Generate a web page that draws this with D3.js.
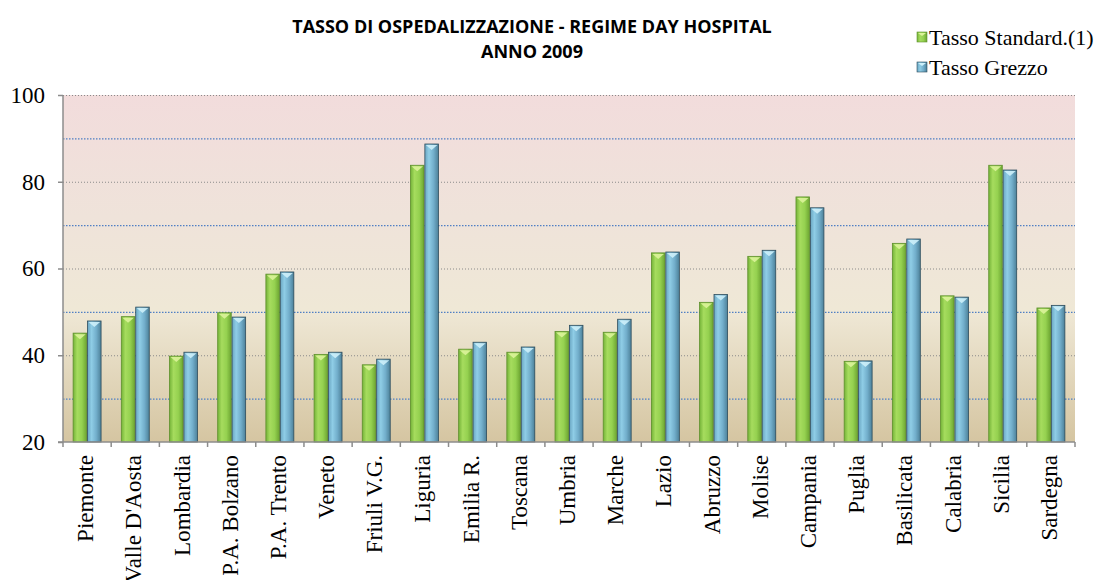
<!DOCTYPE html>
<html>
<head>
<meta charset="utf-8">
<script src="https://cdnjs.cloudflare.com/ajax/libs/d3/7.8.5/d3.min.js"></script>
<style>
  html, body { margin: 0; padding: 0; background: #ffffff; }
  svg { display: block; }
</style>
</head>
<body>
<svg id="chart" width="1102" height="580"></svg>
<script>
// Regional hospitalisation rates, day-hospital regime, 2009
const regions = ["Piemonte", "Valle D'Aosta", "Lombardia", "P.A. Bolzano", "P.A. Trento", "Veneto",
  "Friuli V.G.", "Liguria", "Emilia R.", "Toscana", "Umbria", "Marche", "Lazio", "Abruzzo",
  "Molise", "Campania", "Puglia", "Basilicata", "Calabria", "Sicilia", "Sardegna"];
const tassoStandard = [45.1, 48.9, 39.8, 49.8, 58.7, 40.2, 37.8, 83.8, 41.4, 40.7, 45.5, 45.3,
  63.6, 52.2, 62.8, 76.5, 38.6, 65.8, 53.7, 83.8, 50.9];
const tassoGrezzo = [47.9, 51.1, 40.7, 48.8, 59.2, 40.7, 39.1, 88.7, 43.0, 41.9, 46.9, 48.3,
  63.8, 54.0, 64.2, 74.0, 38.7, 66.8, 53.4, 82.7, 51.5];
const seriesNames = ["Tasso Standard.(1)", "Tasso Grezzo"];
const yTicks = [20, 40, 60, 80, 100];
const yMinorGrid = [30, 50, 70, 90];
const titleLines = ["TASSO DI OSPEDALIZZAZIONE - REGIME DAY HOSPITAL", "ANNO 2009"];

const svg = d3.select("#chart");
const plot = { left: 63, right: 1075, top: 95, bottom: 442 };
const serif = "'Liberation Serif', 'Times New Roman', serif";

const x0 = d3.scaleBand().domain(regions)
  .range([plot.left, plot.right]).paddingInner(0.42).paddingOuter(0.21);
const x1 = d3.scaleBand().domain([0, 1]).range([0, x0.bandwidth()]).paddingInner(0.06);
const y = d3.scaleLinear().domain([20, 100]).range([plot.bottom, plot.top]);

const defs = svg.append("defs");

// Plot-area background: pink at the top fading to tan at the bottom
const bg = defs.append("linearGradient").attr("id", "bgGrad")
  .attr("x1", 0).attr("y1", 0).attr("x2", 0).attr("y2", 1);
bg.append("stop").attr("offset", "0%").attr("stop-color", "#f2dcdc");
bg.append("stop").attr("offset", "35%").attr("stop-color", "#efe3da");
bg.append("stop").attr("offset", "62%").attr("stop-color", "#efe8d6");
bg.append("stop").attr("offset", "100%").attr("stop-color", "#d5c5a1");

// Cylinder-like shading for each series
const palettes = [
  { id: "gGreen", stops: ["#74b338", "#a6dc5e", "#95d150", "#6da532"], cap: "#dcf39a", stroke: "#5e8f2c" },
  { id: "gBlue", stops: ["#6aa6c2", "#8fcde6", "#72aecb", "#4d8199"], cap: "#cdf0fa", stroke: "#2d4c5c" }
];
palettes.forEach(p => {
  const g = defs.append("linearGradient").attr("id", p.id)
    .attr("x1", 0).attr("y1", 0).attr("x2", 1).attr("y2", 0);
  [0, 0.3, 0.65, 1].forEach((o, i) =>
    g.append("stop").attr("offset", o).attr("stop-color", p.stops[i]));
});

svg.append("rect")
  .attr("x", plot.left).attr("y", plot.top)
  .attr("width", plot.right - plot.left).attr("height", plot.bottom - plot.top)
  .attr("fill", "url(#bgGrad)");

// Gridlines: grey dotted at labelled values, blue dotted in between
svg.append("g").selectAll("line").data(yTicks.filter(v => v > 20)).join("line")
  .attr("x1", plot.left).attr("x2", plot.right)
  .attr("y1", d => y(d) + 0.5).attr("y2", d => y(d) + 0.5)
  .attr("stroke", "#8a8a8a").attr("stroke-width", 1).attr("stroke-dasharray", "1,2");
svg.append("g").selectAll("line").data(yMinorGrid).join("line")
  .attr("x1", plot.left).attr("x2", plot.right)
  .attr("y1", d => y(d) + 0.5).attr("y2", d => y(d) + 0.5)
  .attr("stroke", "#4f7fc4").attr("stroke-width", 1.2).attr("stroke-dasharray", "1.5,1.5");

// Bars
const groups = svg.append("g").selectAll("g").data(regions).join("g")
  .attr("transform", d => `translate(${x0(d)},0)`);

const series = [tassoStandard, tassoGrezzo];
groups.each(function (region, i) {
  const g = d3.select(this);
  series.forEach((vals, s) => {
    const p = palettes[s];
    const bx = x1(s), bw = x1.bandwidth();
    const top = y(vals[i]), h = plot.bottom - top;
    g.append("rect")
      .attr("x", bx).attr("y", top).attr("width", bw).attr("height", h)
      .attr("fill", `url(#${p.id})`)
      .attr("stroke", p.stroke).attr("stroke-width", 0.8);
    // bevelled cap at the top of the bar
    g.append("polygon")
      .attr("points", [[bx + 1, top + 1], [bx + bw - 1, top + 1], [bx + bw / 2, top + 6]].map(q => q.join(",")).join(" "))
      .attr("fill", p.cap).attr("opacity", 0.9);
  });
});

// Axes
const axisColor = "#8c8c8c";
svg.append("line")
  .attr("x1", plot.left).attr("x2", plot.left).attr("y1", plot.top).attr("y2", plot.bottom)
  .attr("stroke", axisColor).attr("stroke-width", 1.5);
svg.append("line")
  .attr("x1", plot.left - 5).attr("x2", plot.right).attr("y1", plot.bottom).attr("y2", plot.bottom)
  .attr("stroke", axisColor).attr("stroke-width", 1.5);

const yAxis = svg.append("g").attr("transform", `translate(${plot.left},0)`)
  .call(d3.axisLeft(y).tickValues(yTicks).tickSize(5).tickPadding(13));
yAxis.select(".domain").remove();
yAxis.selectAll(".tick line").attr("stroke", axisColor).attr("stroke-width", 1.5);
yAxis.selectAll("text")
  .attr("font-family", serif)
  .attr("font-size", 23).attr("fill", "#000");

// Category boundary ticks
const step = x0.step();
svg.append("g").selectAll("line").data(d3.range(regions.length + 1)).join("line")
  .attr("x1", d => plot.left + d * step).attr("x2", d => plot.left + d * step)
  .attr("y1", plot.bottom).attr("y2", plot.bottom + 5)
  .attr("stroke", axisColor).attr("stroke-width", 1.5);

// Rotated category labels
svg.append("g").selectAll("text").data(regions).join("text")
  .attr("transform", d => `translate(${x0(d) + x0.bandwidth() / 2 - 2},${plot.bottom + 13}) rotate(-90)`)
  .attr("text-anchor", "end").attr("dy", "0.35em")
  .attr("font-family", serif)
  .attr("font-size", 23).attr("fill", "#000")
  .text(d => d);

// Title
svg.append("g").selectAll("text").data(titleLines).join("text")
  .attr("x", 532).attr("y", (d, i) => 33 + i * 25)
  .attr("text-anchor", "middle")
  .attr("font-family", "'Open Sans', 'Liberation Sans', sans-serif")
  .attr("font-weight", "bold").attr("font-size", 18).attr("fill", "#000")
  .text(d => d);

// Legend
const legend = svg.append("g").selectAll("g").data(seriesNames).join("g")
  .attr("transform", (d, i) => `translate(917,${32 + i * 30})`);
legend.append("rect")
  .attr("width", 10).attr("height", 10)
  .attr("fill", (d, i) => `url(#${palettes[i].id})`)
  .attr("stroke", (d, i) => palettes[i].stroke).attr("stroke-width", 0.6);
legend.append("polygon")
  .attr("points", "1,1 9,1 5,4")
  .attr("fill", (d, i) => palettes[i].cap);
legend.append("text")
  .attr("x", 12).attr("y", 5).attr("dy", "0.35em")
  .attr("font-family", serif)
  .attr("font-size", 22).attr("fill", "#000")
  .text(d => d);
</script>
</body>
</html>
